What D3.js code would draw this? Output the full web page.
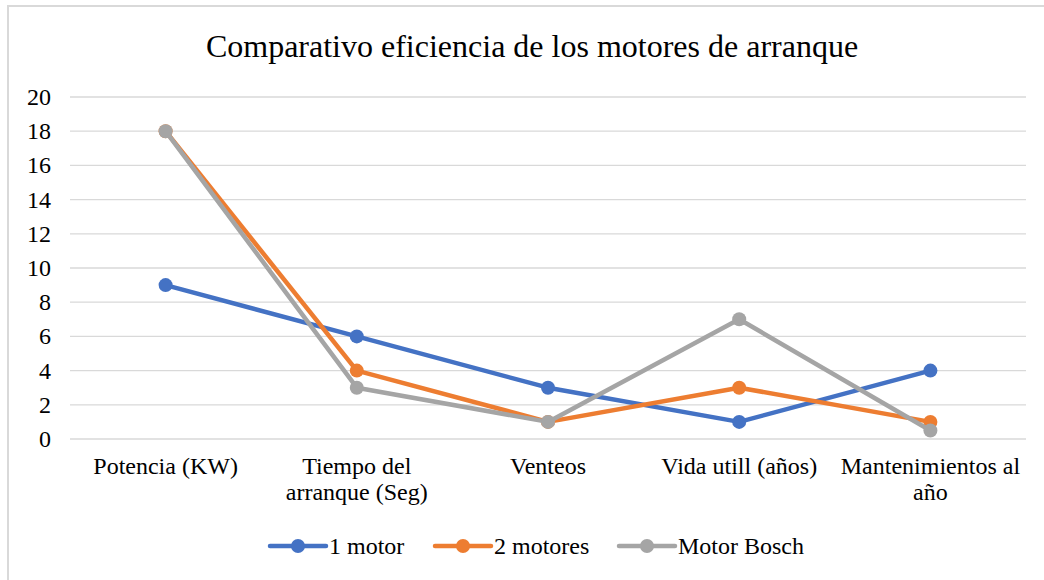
<!DOCTYPE html>
<html>
<head>
<meta charset="utf-8">
<script src="https://cdn.jsdelivr.net/npm/d3@7"></script>
<style>
  body { margin: 0; background: #fff; }
  text { font-family: "Liberation Serif", "Times New Roman", serif; fill: #000; }
</style>
</head>
<body>
<svg id="chart" width="1044" height="580"></svg>
<script>
const categories = [
  ["Potencia (KW)"],
  ["Tiempo del", "arranque (Seg)"],
  ["Venteos"],
  ["Vida utill (años)"],
  ["Mantenimientos al", "año"]
];
const seriesNames = ["1 motor", "2 motores", "Motor Bosch"];
const motor1 = [9, 6, 3, 1, 4];
const motores2 = [18, 4, 1, 3, 1];
const bosch = [18, 3, 1, 7, 0.5];
const colors = ["#4472c4", "#ed7d31", "#a5a5a5"];
const yTicks = [0, 2, 4, 6, 8, 10, 12, 14, 16, 18, 20];

const series = [motor1, motores2, bosch];

const svg = d3.select("#chart");

// chart frame
svg.append("rect")
  .attr("x", 8).attr("y", 6)
  .attr("width", 1044).attr("height", 600)
  .attr("fill", "#fff")
  .attr("stroke", "#d9d9d9")
  .attr("stroke-width", 2);

svg.append("text")
  .attr("x", 532).attr("y", 57)
  .attr("text-anchor", "middle")
  .attr("font-size", 32)
  .text("Comparativo eficiencia de los motores de arranque");

const x = d3.scaleBand()
  .domain(d3.range(categories.length))
  .range([70, 1026]);

const y = d3.scaleLinear().domain([0, 20]).range([439, 97]);

// gridlines
svg.append("g")
  .selectAll("line")
  .data(yTicks)
  .enter()
  .append("line")
  .attr("x1", 70).attr("x2", 1026)
  .attr("y1", d => y(d)).attr("y2", d => y(d))
  .attr("stroke", "#d9d9d9")
  .attr("stroke-width", 1.3);

// y labels
svg.append("g")
  .selectAll("text")
  .data(yTicks)
  .enter()
  .append("text")
  .attr("x", 51)
  .attr("y", d => y(d) + 8)
  .attr("text-anchor", "end")
  .attr("font-size", 24)
  .text(d => d);

// x labels
const xl = svg.append("g")
  .selectAll("text")
  .data(categories)
  .enter()
  .append("text")
  .attr("text-anchor", "middle")
  .attr("font-size", 24)
  .attr("transform", (d, i) => "translate(" + (x(i) + x.bandwidth() / 2) + ",474)");
xl.selectAll("tspan")
  .data(d => d)
  .enter()
  .append("tspan")
  .attr("x", 0)
  .attr("dy", (d, i) => i === 0 ? 0 : 26)
  .text(d => d);

const line = d3.line()
  .x((d, i) => x(i) + x.bandwidth() / 2)
  .y(d => y(d));

series.forEach((s, k) => {
  const g = svg.append("g");
  g.append("path")
    .attr("d", line(s))
    .attr("fill", "none")
    .attr("stroke", colors[k])
    .attr("stroke-width", 4.5)
    .attr("stroke-linejoin", "round")
    .attr("stroke-linecap", "round");
  g.selectAll("circle")
    .data(s)
    .enter()
    .append("circle")
    .attr("cx", (d, i) => x(i) + x.bandwidth() / 2)
    .attr("cy", d => y(d))
    .attr("r", 7)
    .attr("fill", colors[k]);
});

// legend
const legendX = [270, 435, 619];
const legend = svg.append("g")
  .selectAll("g")
  .data(seriesNames)
  .enter()
  .append("g")
  .attr("transform", (d, i) => "translate(" + legendX[i] + ",546)");
legend.append("line")
  .attr("x1", 0).attr("x2", 56)
  .attr("stroke", (d, i) => colors[i])
  .attr("stroke-width", 4.5)
  .attr("stroke-linecap", "round");
legend.append("circle")
  .attr("cx", 28).attr("r", 7)
  .attr("fill", (d, i) => colors[i]);
legend.append("text")
  .attr("x", 59).attr("y", 8)
  .attr("font-size", 24)
  .text(d => d);
</script>
</body>
</html>
